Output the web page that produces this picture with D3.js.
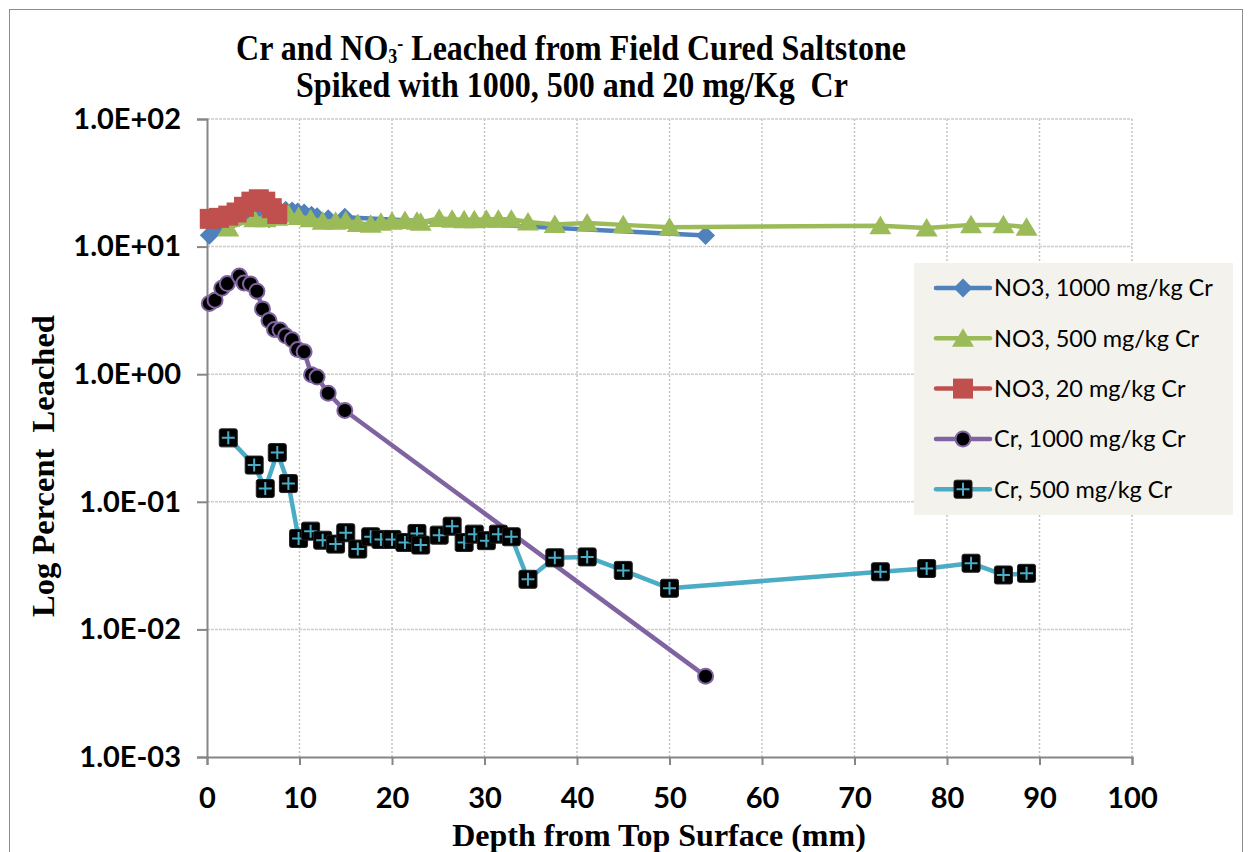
<!DOCTYPE html>
<html>
<head>
<meta charset="utf-8">
<script src="https://cdn.jsdelivr.net/npm/d3@7/dist/d3.min.js"></script>
<style>
  body { margin: 0; background: #fff; }
  svg { display: block; }
</style>
</head>
<body>
<svg id="chart" width="1249" height="852"></svg>
<script>
// Profundidad (mm) y porcentaje lixiviado para cada serie
const depth1000 = [0.25, 0.87, 1.6, 2.2, 3.5, 4.0, 4.7, 5.4, 6.0, 6.7, 7.3, 7.9, 8.5, 9.2, 9.8, 10.5, 11.3, 11.9, 13.1, 14.9, 53.9];
const no3_1000 = [12.3, 13.8, 15.0, 16.0, 17.0, 17.5, 17.8, 17.5, 17.0, 16.5, 17.0, 19.0, 19.3, 19.0, 18.7, 18.3, 17.6, 17.1, 16.5, 17.0, 12.2];
const cr_1000 = [3.58, 3.80, 4.72, 5.13, 5.87, 5.18, 5.10, 4.47, 3.25, 2.63, 2.24, 2.22, 2.0, 1.86, 1.56, 1.50, 0.99, 0.95, 0.71, 0.52, 0.0043];

const depth500 = [2.3, 5.1, 6.3, 7.6, 8.8, 9.9, 11.2, 12.5, 13.9, 15.0, 16.3, 17.7, 18.8, 20.0, 21.4, 22.7, 23.1, 25.1, 26.5, 27.8, 28.9, 30.2, 31.5, 32.9, 34.7, 37.6, 41.1, 45.0, 50.0, 72.8, 77.8, 82.6, 86.1, 88.6];
const no3_500 = [14.0, 16.5, 16.5, 17.0, 18.0, 17.2, 16.5, 15.8, 15.8, 16.0, 15.2, 15.0, 15.5, 15.8, 16.0, 15.8, 15.5, 16.6, 16.4, 16.2, 16.2, 16.4, 16.4, 16.4, 15.6, 14.9, 15.3, 14.8, 14.2, 14.6, 14.0, 14.8, 14.8, 14.2];
const cr_500 = [0.317, 0.194, 0.127, 0.243, 0.139, 0.0516, 0.0589, 0.050, 0.0466, 0.0572, 0.0426, 0.0532, 0.0507, 0.0507, 0.048, 0.0565, 0.0458, 0.0548, 0.0644, 0.048, 0.0558, 0.0496, 0.0558, 0.0532, 0.0247, 0.0364, 0.037, 0.029, 0.021, 0.0283, 0.030, 0.033, 0.0267, 0.0275];

const depth20 = [0.3, 1.3, 2.3, 3.2, 4.0, 4.8, 5.6, 6.3, 7.0, 7.6];
const no3_20 = [16.5, 16.8, 17.5, 18.5, 20.5, 22.5, 23.5, 22.5, 20.0, 18.0];

const xTicks = [0, 10, 20, 30, 40, 50, 60, 70, 80, 90, 100];
const yTicks = [1e-3, 1e-2, 1e-1, 1e0, 1e1, 1e2];
const yTickLabels = ["1.0E-03", "1.0E-02", "1.0E-01", "1.0E+00", "1.0E+01", "1.0E+02"];

const seriesNames = ["NO3, 1000 mg/kg Cr", "NO3, 500 mg/kg Cr", "NO3, 20 mg/kg Cr", "Cr, 1000 mg/kg Cr", "Cr, 500 mg/kg Cr"];

const svg = d3.select("#chart");
const plot = {left: 207, right: 1132, top: 119, bottom: 757};
const serif = "'Liberation Serif', 'Times New Roman', serif";
const sans = "Lato, 'Open Sans', sans-serif";

// Marco exterior del gráfico
svg.append("rect")
    .attr("x", 9.5).attr("y", 9.5)
    .attr("width", 1233).attr("height", 900)
    .attr("fill", "none")
    .attr("stroke", "#8c8c8c")
    .attr("stroke-width", 1);

const x = d3.scaleLinear().domain([0, 100]).range([plot.left, plot.right]);
const y = d3.scaleLog().domain([1e-3, 1e2]).range([plot.bottom, plot.top]);

// Cuadrícula
svg.append("g").selectAll("line")
    .data(xTicks.slice(1))
    .join("line")
    .attr("x1", d => x(d)).attr("x2", d => x(d))
    .attr("y1", plot.top).attr("y2", plot.bottom)
    .attr("stroke", "#c4c4c4")
    .attr("stroke-width", 1.5)
    .attr("stroke-dasharray", "2,2");

svg.append("g").selectAll("line")
    .data(yTicks.slice(1))
    .join("line")
    .attr("x1", plot.left).attr("x2", plot.right)
    .attr("y1", d => y(d)).attr("y2", d => y(d))
    .attr("stroke", "#cdcdcd")
    .attr("stroke-width", 1.5)
    .attr("stroke-dasharray", "3,1");

// Ejes
const yAxis = svg.append("g")
    .attr("transform", `translate(${plot.left},0)`)
    .call(d3.axisLeft(y).tickValues(yTicks).tickSize(10).tickPadding(16)
        .tickFormat((d, i) => yTickLabels[i]));

const xAxis = svg.append("g")
    .attr("transform", `translate(0,${plot.bottom})`)
    .call(d3.axisBottom(x).tickValues(xTicks).tickSize(8).tickPadding(22));

[yAxis, xAxis].forEach(a => {
    a.select(".domain").attr("stroke", "#868686").attr("stroke-width", 2);
    a.selectAll(".tick line").attr("stroke", "#868686").attr("stroke-width", 2);
    a.selectAll(".tick text")
        .attr("fill", "#000")
        .style("font-family", sans)
        .style("font-weight", "bold")
        .style("font-size", "29px");
});
xAxis.selectAll(".tick text").attr("dy", "0.71em");

// Formas de los marcadores
function markerPath(type, s) {
    if (type === "diamond") return `M0,${-s}L${s},0L0,${s}L${-s},0Z`;
    if (type === "triangle") return `M0,${-s}L${s * 1.1},${s * 0.85}L${-s * 1.1},${s * 0.85}Z`;
    if (type === "square") return `M${-s},${-s}H${s}V${s}H${-s}Z`;
    return "";
}

const series = [
    {name: seriesNames[0], xs: depth1000, ys: no3_1000, color: "#4F81BD", marker: "diamond"},
    {name: seriesNames[1], xs: depth500, ys: no3_500, color: "#9BBB59", marker: "triangle"},
    {name: seriesNames[2], xs: depth20, ys: no3_20, color: "#C0504D", marker: "square"},
    {name: seriesNames[3], xs: depth1000, ys: cr_1000, color: "#8064A2", marker: "circle"},
    {name: seriesNames[4], xs: depth500, ys: cr_500, color: "#4BACC6", marker: "crossbox"}
];

const line = d3.line().x(d => x(d[0])).y(d => y(d[1]));

function drawMarker(g, type, color) {
    if (type === "circle") {
        g.append("circle").attr("r", 7.5).attr("fill", "#000")
            .attr("stroke", "#8064A2").attr("stroke-width", 2);
    } else if (type === "crossbox") {
        g.append("rect").attr("x", -9).attr("y", -9).attr("width", 18).attr("height", 18)
            .attr("rx", 2).attr("fill", "#000").attr("stroke", "#222").attr("stroke-width", 1);
        g.append("path").attr("d", "M-6.5,0H6.5M0,-6.5V6.5")
            .attr("stroke", color).attr("stroke-width", 2);
    } else {
        const s = type === "diamond" ? 9.5 : 10;
        g.append("path").attr("d", markerPath(type, s)).attr("fill", color);
    }
}

series.forEach(s => {
    const pts = s.xs.map((v, i) => [v, s.ys[i]]);
    const g = svg.append("g");
    g.append("path")
        .datum(pts)
        .attr("d", line)
        .attr("fill", "none")
        .attr("stroke", s.color)
        .attr("stroke-width", 4.5)
        .attr("stroke-linejoin", "round");
    g.selectAll("g.pt")
        .data(pts)
        .join("g")
        .attr("class", "pt")
        .attr("transform", d => `translate(${x(d[0])},${y(d[1])})`)
        .each(function() { drawMarker(d3.select(this), s.marker, s.color); });
});

// Leyenda
const legend = svg.append("g").attr("transform", "translate(914,263)");
legend.append("rect")
    .attr("width", 319).attr("height", 252)
    .attr("fill", "#f3f2ed");

series.forEach((s, i) => {
    const row = legend.append("g").attr("transform", `translate(0,${25 + i * 50.3})`);
    row.append("line")
        .attr("x1", 22).attr("x2", 76)
        .attr("stroke", s.color).attr("stroke-width", 4.5).attr("stroke-linecap", "round");
    const m = row.append("g").attr("transform", "translate(49,0)");
    drawMarker(m, s.marker, s.color);
    row.append("text")
        .attr("x", 80).attr("y", 0).attr("dy", "0.36em")
        .style("font-family", sans)
        .style("font-size", "23.5px")
        .attr("fill", "#000")
        .text(s.name);
});

// Título (letra algo estirada en vertical, como en el original)
const sy = 1.15;
const title = svg.append("g").attr("transform", `scale(1,${sy})`)
    .append("text")
    .attr("text-anchor", "middle")
    .style("font-family", serif)
    .style("font-weight", "bold")
    .style("font-size", "32px")
    .style("white-space", "pre")
    .attr("fill", "#000");
const t1 = title.append("tspan").attr("x", 571).attr("y", 60 / sy);
t1.append("tspan").text("Cr and NO");
t1.append("tspan").attr("dy", 3).style("font-size", "18px").text("3");
t1.append("tspan").attr("dy", -12).style("font-size", "18px").text("-");
t1.append("tspan").attr("dy", 9).text(" Leached from Field Cured Saltstone");
title.append("tspan").attr("x", 572).attr("y", 97 / sy).text("Spiked with 1000, 500 and 20 mg/Kg  Cr");

// Títulos de ejes
svg.append("text")
    .attr("x", 659).attr("y", 846)
    .attr("text-anchor", "middle")
    .style("font-family", serif)
    .style("font-weight", "bold")
    .style("font-size", "32px")
    .text("Depth from Top Surface (mm)");

svg.append("text")
    .attr("transform", "translate(54,466) rotate(-90)")
    .attr("text-anchor", "middle")
    .style("font-family", serif)
    .style("font-weight", "bold")
    .style("font-size", "32.5px")
    .style("white-space", "pre")
    .text("Log Percent  Leached");
</script>
</body>
</html>
